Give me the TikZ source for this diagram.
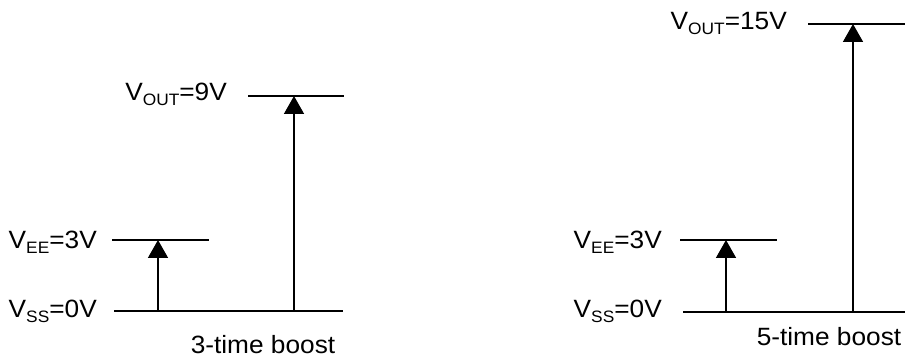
\documentclass[tikz,border=0pt]{standalone}
\usepackage{fontspec}
\setmainfont{Liberation Sans}
\usetikzlibrary{arrows.meta}
\newcommand{\VLabel}[2]{V\raisebox{-0.17em}{\fontsize{16.5}{16.5}\selectfont #1}=#2}
\begin{document}
\begin{tikzpicture}[x=1pt,y=1pt,
  lvl/.style={line width=1.6pt},
  up/.style={line width=1.6pt,-{Triangle[width=20pt,length=18pt]}},
  lbl/.style={inner sep=0pt,font=\fontsize{25}{29}\selectfont,xscale=1.05}]
\useasboundingbox (0,0) rectangle (908,358);
% ---------- left: 3-time boost ----------
\coordinate (ssA) at (114,47);
\coordinate (ssB) at (343,47);
\coordinate (eeA) at (112,118);
\coordinate (eeB) at (209,118);
\coordinate (outA) at (248,262);
\coordinate (outB) at (344,262);
\coordinate (s1) at (158,47);
\coordinate (e1) at (158,118);
\coordinate (s2) at (294,47);
\coordinate (e2) at (294,262);
\draw[lvl] (ssA) -- (ssB);
\draw[lvl] (eeA) -- (eeB);
\draw[lvl] (outA) -- (outB);
\draw[up] (s1) -- (e1);
\draw[up] (s2) -- (e2);
\node[lbl,anchor=base east] (lout) at (227,257) {\VLabel{OUT}{9V}};
\node[lbl,anchor=base east] (lee) at (97,109) {\VLabel{EE}{3V}};
\node[lbl,anchor=base east] (lss) at (97,40) {\VLabel{SS}{0V}};
\node[lbl,anchor=base] (cap1) at (263,4) {3-time boost};
% ---------- right: 5-time boost ----------
\coordinate (rssA) at (683,46);
\coordinate (rssB) at (905,46);
\coordinate (reeA) at (680,118);
\coordinate (reeB) at (777,118);
\coordinate (routA) at (808,334);
\coordinate (routB) at (905,334);
\coordinate (rs1) at (726,46);
\coordinate (re1) at (726,118);
\coordinate (rs2) at (853,46);
\coordinate (re2) at (853,334);
\draw[lvl] (rssA) -- (rssB);
\draw[lvl] (reeA) -- (reeB);
\draw[lvl] (routA) -- (routB);
\draw[up] (rs1) -- (re1);
\draw[up] (rs2) -- (re2);
\node[lbl,anchor=base east] (rlout) at (787,328) {\VLabel{OUT}{15V}};
\node[lbl,anchor=base east] (rlee) at (662,109) {\VLabel{EE}{3V}};
\node[lbl,anchor=base east] (rlss) at (662,40) {\VLabel{SS}{0V}};
\node[lbl,anchor=base] (cap2) at (829,12) {5-time boost};
\end{tikzpicture}
\end{document}
